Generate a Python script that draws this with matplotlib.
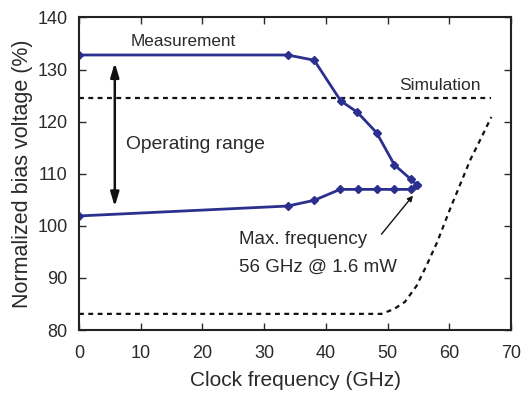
import matplotlib
matplotlib.use("Agg")
import matplotlib.pyplot as plt

# Measurement (upper branch -> tip -> lower branch)
meas_upper_x = [0, 33.8, 38.1, 42.4, 45.1, 48.2, 51.1, 53.8, 54.8]
meas_upper_y = [132.8, 132.8, 131.8, 124.0, 121.8, 117.9, 111.7, 108.9, 107.8]
meas_lower_x = [0, 33.8, 38.1, 42.3, 45.2, 48.2, 51.1, 53.8, 54.8]
meas_lower_y = [101.9, 103.8, 104.9, 107.0, 107.0, 107.0, 107.0, 107.0, 107.8]

# Simulation
sim_upper_x = [0, 66.8]
sim_upper_y = [124.6, 124.6]
sim_lower_x = [0, 49, 51, 52.8, 54.7, 56.3, 58.0, 60.1, 63.4, 65.2, 66.8]
sim_lower_y = [83.1, 83.1, 84.0, 85.4, 88.5, 92.4, 96.8, 103.2, 112.7, 117.0, 120.9]

x_ticks = [0, 10, 20, 30, 40, 50, 60, 70]
y_ticks = [80, 90, 100, 110, 120, 130, 140]

plt.rcParams['font.family'] = ['Liberation Sans', 'DejaVu Sans']

fig = plt.figure(figsize=(5.21, 3.94), dpi=100)
ax = fig.add_axes([0.1516, 0.1624, 0.981 - 0.1516, 0.9556 - 0.1624])

txt = '#2a2a2a'
blue = '#2B2F8E'
ax.plot(sim_upper_x, sim_upper_y, color='#111111', lw=1.6, ls=(0, (2.2, 2.0)))
ax.plot(sim_lower_x, sim_lower_y, color='#111111', lw=1.6, ls=(0, (2.2, 2.0)))
ax.plot(meas_upper_x, meas_upper_y, color=blue, lw=2, marker='D', ms=4)
ax.plot(meas_lower_x, meas_lower_y, color=blue, lw=2, marker='D', ms=4)

ax.set_xlim(0, 70)
ax.set_ylim(80, 140)
ax.set_xticks(x_ticks)
ax.set_yticks(y_ticks)
ax.tick_params(direction='in', length=5, width=1, top=True, right=True,
               labelsize=13, colors=txt)
ax.tick_params(axis='x', pad=11)
ax.tick_params(axis='y', pad=8)
for s in ax.spines.values():
    s.set_linewidth(1.5)
    s.set_color('#222222')

ax.set_xlabel('Clock frequency (GHz)', fontsize=15, color=txt, labelpad=6)
ax.set_ylabel('Normalized bias voltage (%)', fontsize=15.5, color=txt, labelpad=3)

ax.text(16.9, 135.3, 'Measurement', fontsize=12.3, ha='center', va='center', color=txt)
ax.text(58.5, 126.9, 'Simulation', fontsize=12.5, ha='center', va='center', color=txt)
ax.text(7.6, 115.6, 'Operating range', fontsize=13.9, ha='left', va='center', color=txt)
ax.text(26.0, 97.4, 'Max. frequency', fontsize=13.5, ha='left', va='center', color=txt)
ax.text(26.0, 92.0, '56 GHz @ 1.6 mW', fontsize=13.5, ha='left', va='center', color=txt)

ax.annotate('', xy=(5.8, 131.3), xytext=(5.8, 103.7),
            arrowprops=dict(arrowstyle='<|-|>,head_length=0.6,head_width=0.18',
                            color='#111111', lw=1.8,
                            mutation_scale=14, shrinkA=0, shrinkB=0))
ax.annotate('', xy=(54.1, 105.8), xytext=(49.0, 98.4),
            arrowprops=dict(arrowstyle='-|>', color='#111111', lw=1.0,
                            mutation_scale=8, shrinkA=0, shrinkB=0))

fig.savefig('out.png', dpi=100)
